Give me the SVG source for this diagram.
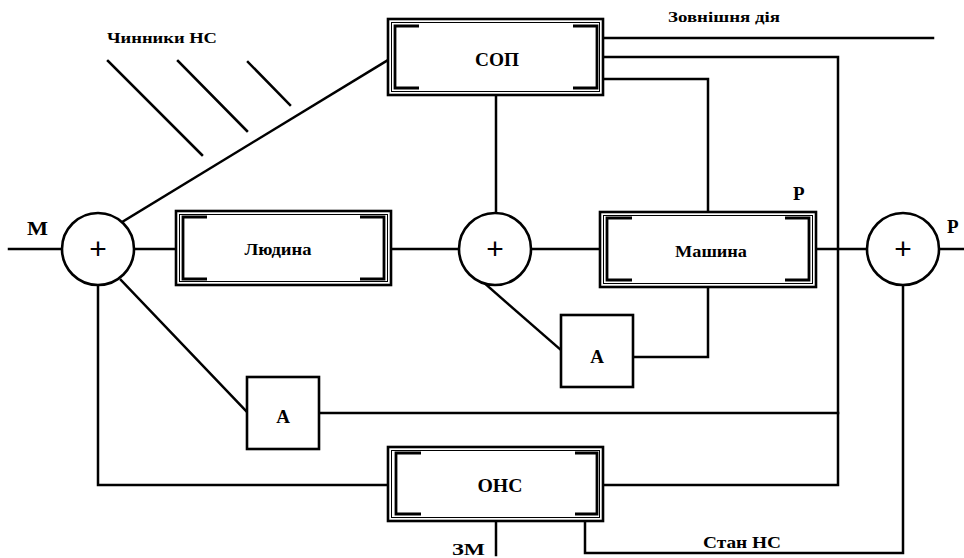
<svg xmlns="http://www.w3.org/2000/svg" width="964" height="558" viewBox="0 0 964 558">
<style>
.ln{fill:none;stroke:#000;stroke-width:2.5;stroke-linecap:square;stroke-linejoin:miter}
.ob{fill:#fff;stroke:#000;stroke-width:2.6}
.ib{fill:none;stroke:#000;stroke-width:1}
.br{fill:none;stroke:#000;stroke-width:2.8}
.c{fill:#fff;stroke:#000;stroke-width:2.6}
.t{font-family:"Liberation Serif","DejaVu Serif","Times New Roman",serif;font-weight:bold;fill:#000}
.p{font-family:"Liberation Sans",Arial,sans-serif;font-size:30px;fill:#000}
</style>
<rect width="964" height="558" fill="#fff"/>
<g id="connectors">
  <path class="ln" d="M108,61 L202,155 M178,61 L247,131 M248,62 L290,105"/>
  <path class="ln" d="M9,249 L62,249"/>
  <path class="ln" d="M122,222 L388,60"/>
  <path class="ln" d="M134,249 L176,249"/>
  <path class="ln" d="M391,249 L459,249"/>
  <path class="ln" d="M531,249 L600,249"/>
  <path class="ln" d="M816,249 L867,249"/>
  <path class="ln" d="M939,249 L963,249"/>
  <path class="ln" d="M496,95 L496,213"/>
  <path class="ln" d="M603,38 L933,38"/>
  <path class="ln" d="M603,57 L838,57 L838,485 L603,485"/>
  <path class="ln" d="M603,79 L708,79 L708,212"/>
  <path class="ln" d="M121,280 L247,412"/>
  <path class="ln" d="M319,413 L838,413"/>
  <path class="ln" d="M483,282 L561,350"/>
  <path class="ln" d="M633,357 L708,357 L708,287"/>
  <path class="ln" d="M98,285 L98,485 L388,485"/>
  <path class="ln" d="M496,507 L496,555"/>
  <path class="ln" d="M585,513 L585,553 L903,553 L903,285"/>
</g>
<g id="node-sop">
  <rect class="ob" x="388" y="19" width="215" height="76"/>
  <rect class="ib" x="391.5" y="22.5" width="208" height="69"/>
  <path class="br" d="M419,26 L395,26 L395,88 L419,88 M573,26 L597,26 L597,88 L573,88"/>
  <text class="t" x="497" y="66" font-size="18" text-anchor="middle" textLength="44" lengthAdjust="spacingAndGlyphs">СОП</text>
</g>
<g id="node-human">
  <rect class="ob" x="176" y="211" width="215" height="74"/>
  <rect class="ib" x="179.5" y="214.5" width="208" height="67"/>
  <path class="br" d="M207,217 L183,217 L183,279 L207,279 M360,217 L384,217 L384,279 L360,279"/>
  <text class="t" x="278" y="255" font-size="16" text-anchor="middle" textLength="67" lengthAdjust="spacingAndGlyphs">Людина</text>
</g>
<g id="node-machine">
  <rect class="ob" x="600" y="212" width="216" height="75"/>
  <rect class="ib" x="603.5" y="215.5" width="209" height="68"/>
  <path class="br" d="M632,218 L607,218 L607,280 L632,280 M785,218 L809,218 L809,280 L785,280"/>
  <text class="t" x="711" y="257" font-size="16" text-anchor="middle" textLength="72" lengthAdjust="spacingAndGlyphs">Машина</text>
</g>
<g id="node-ons">
  <rect class="ob" x="388" y="447" width="215" height="74"/>
  <rect class="ib" x="391.5" y="450.5" width="208" height="67"/>
  <path class="br" d="M421,453 L396,453 L396,514 L421,514 M575,453 L597,453 L597,514 L575,514"/>
  <text class="t" x="500" y="492" font-size="18" text-anchor="middle" textLength="45" lengthAdjust="spacingAndGlyphs">ОНС</text>
</g>
<g id="node-a1">
  <rect class="ob" x="247" y="377" width="72" height="72"/>
  <text class="t" x="283" y="423" font-size="19" text-anchor="middle">А</text>
</g>
<g id="node-a2">
  <rect class="ob" x="561" y="315" width="72" height="72"/>
  <text class="t" x="597" y="363" font-size="19" text-anchor="middle">А</text>
</g>
<g id="node-sum1">
  <circle class="c" cx="98" cy="249" r="36"/>
  <text class="p" x="98" y="259" text-anchor="middle">+</text>
</g>
<g id="node-sum2">
  <circle class="c" cx="495" cy="249" r="36"/>
  <text class="p" x="495" y="259" text-anchor="middle">+</text>
</g>
<g id="node-sum3">
  <circle class="c" cx="903" cy="249" r="36"/>
  <text class="p" x="903" y="259" text-anchor="middle">+</text>
</g>
<g id="labels">
  <text class="t" x="107" y="43" font-size="15" textLength="110" lengthAdjust="spacingAndGlyphs">Чинники НС</text>
  <text class="t" x="668" y="22" font-size="14" textLength="112" lengthAdjust="spacingAndGlyphs">Зовнішня дія</text>
  <text class="t" x="27" y="235" font-size="19" textLength="21" lengthAdjust="spacingAndGlyphs">М</text>
  <text class="t" x="793" y="200" font-size="19">Р</text>
  <text class="t" x="947" y="233" font-size="19">Р</text>
  <text class="t" x="452" y="555" font-size="17" textLength="33" lengthAdjust="spacingAndGlyphs">ЗМ</text>
  <text class="t" x="703" y="548" font-size="16" textLength="78" lengthAdjust="spacingAndGlyphs">Стан НС</text>
</g>
</svg>
